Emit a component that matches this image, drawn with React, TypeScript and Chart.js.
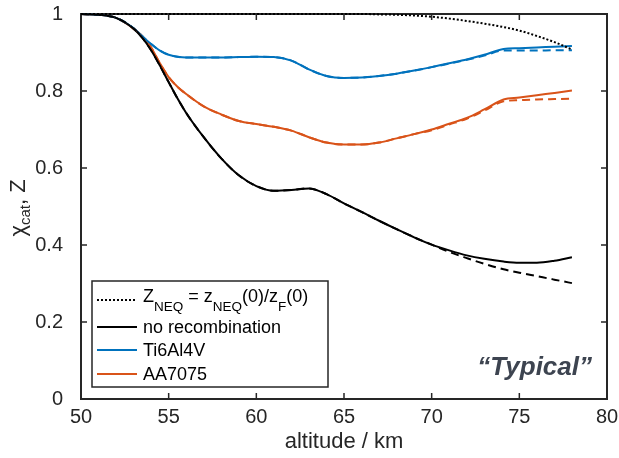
import React, { useEffect, useRef } from "react";
import { Chart, registerables } from "chart.js";

Chart.register(...registerables);

// ---------------- data ----------------
const ALTITUDE = [50, 51, 52, 53, 53.5, 54, 54.5, 55, 55.5, 56, 57, 58, 59, 60, 61, 62, 63, 64, 65, 66, 67, 68, 69, 70, 71, 72, 73, 74.1, 75, 76, 77, 78];

const Z_NEQ = [1, 1, 1, 1, 1, 1, 1, 1, 1, 1, 1, 1, 1, 1, 1, 1, 1, 1, 1, 1, 0.999, 0.998, 0.996, 0.993, 0.988, 0.982, 0.975, 0.966, 0.957, 0.943, 0.927, 0.908];

const NO_RECOMB = [1.0, 0.998, 0.99, 0.962, 0.938, 0.906, 0.866, 0.823, 0.781, 0.743, 0.68, 0.625, 0.581, 0.553, 0.541, 0.543, 0.547, 0.532, 0.508, 0.486, 0.463, 0.441, 0.42, 0.401, 0.386, 0.373, 0.364, 0.357, 0.354, 0.354, 0.359, 0.368];
const NO_RECOMB_DASHED = [1.0, 0.998, 0.99, 0.962, 0.938, 0.906, 0.866, 0.823, 0.781, 0.743, 0.68, 0.625, 0.581, 0.553, 0.541, 0.543, 0.547, 0.532, 0.508, 0.486, 0.463, 0.441, 0.42, 0.401, 0.382, 0.366, 0.351, 0.337, 0.328, 0.319, 0.31, 0.301];

const TI6AL4V = [1.0, 0.998, 0.99, 0.963, 0.942, 0.922, 0.905, 0.894, 0.889, 0.887, 0.887, 0.887, 0.888, 0.889, 0.888, 0.879, 0.856, 0.839, 0.834, 0.835, 0.839, 0.845, 0.853, 0.862, 0.872, 0.882, 0.894, 0.909, 0.911, 0.913, 0.915, 0.917];
const TI6AL4V_DASHED = [1.0, 0.998, 0.99, 0.963, 0.942, 0.922, 0.905, 0.894, 0.889, 0.887, 0.887, 0.887, 0.888, 0.889, 0.888, 0.879, 0.856, 0.839, 0.834, 0.835, 0.839, 0.845, 0.853, 0.862, 0.871, 0.881, 0.892, 0.905, 0.905, 0.905, 0.906, 0.906];

const AA7075 = [1.0, 0.998, 0.99, 0.962, 0.942, 0.913, 0.872, 0.836, 0.811, 0.792, 0.76, 0.739, 0.722, 0.714, 0.707, 0.697, 0.68, 0.666, 0.661, 0.661, 0.666, 0.677, 0.688, 0.7, 0.715, 0.73, 0.752, 0.778, 0.783, 0.789, 0.795, 0.801];
const AA7075_DASHED = [1.0, 0.998, 0.99, 0.962, 0.942, 0.913, 0.872, 0.836, 0.811, 0.792, 0.76, 0.739, 0.722, 0.714, 0.707, 0.697, 0.68, 0.666, 0.661, 0.661, 0.666, 0.677, 0.688, 0.698, 0.713, 0.728, 0.749, 0.773, 0.776, 0.778, 0.779, 0.78];

const X_TICKS = [50, 55, 60, 65, 70, 75, 80];
const Y_TICKS = [0, 0.2, 0.4, 0.6, 0.8, 1];

const X_TITLE = "altitude / km";
const ANNOTATION = "\u201CTypical\u201D";
const LEGEND_LABELS = ["no recombination", "Ti6Al4V", "AA7075"];

// ---------------- styles ----------------
const FONT = "'Liberation Sans', Arial, Helvetica, sans-serif";
const AXIS_COLOR = "#262626";
const BLUE = "#0072BD";
const ORANGE = "#D95319";
const BLACK = "#000000";

const toPoints = (ys: number[]) => ys.map((y, i) => ({ x: ALTITUDE[i], y }));

type Seg = { t: string; sub?: boolean };

function drawRich(ctx: CanvasRenderingContext2D, segs: Seg[], x: number, y: number, main: number, sub: number, subOff: number, align: "left" | "center" = "left") {
  const widths = segs.map((s) => {
    ctx.font = `${s.sub ? sub : main}px ${FONT}`;
    return ctx.measureText(s.t).width;
  });
  const total = widths.reduce((a, b) => a + b, 0);
  let cx = align === "center" ? x - total / 2 : x;
  ctx.textAlign = "left";
  ctx.textBaseline = "alphabetic";
  segs.forEach((s, i) => {
    ctx.font = `${s.sub ? sub : main}px ${FONT}`;
    ctx.fillText(s.t, cx, s.sub ? y + subOff : y);
    cx += widths[i];
  });
}

const framePlugin = {
  id: "frame",
  beforeDatasetsDraw(chart: any) {
    const { ctx, chartArea: a, scales } = chart;
    ctx.save();
    ctx.strokeStyle = AXIS_COLOR;
    ctx.lineWidth = 1.5;
    ctx.beginPath();
    X_TICKS.forEach((v) => {
      const px = scales.x.getPixelForValue(v);
      ctx.moveTo(px, a.bottom);
      ctx.lineTo(px, a.bottom - 6);
      ctx.moveTo(px, a.top);
      ctx.lineTo(px, a.top + 6);
    });
    Y_TICKS.forEach((v) => {
      const py = scales.y.getPixelForValue(v);
      ctx.moveTo(a.left, py);
      ctx.lineTo(a.left + 6, py);
      ctx.moveTo(a.right, py);
      ctx.lineTo(a.right - 6, py);
    });
    ctx.stroke();
    ctx.lineWidth = 2;
    ctx.strokeRect(a.left, a.top, a.right - a.left, a.bottom - a.top);
    ctx.restore();
  },
  afterDraw(chart: any) {
    const { ctx } = chart;
    ctx.save();
    // y-axis title
    ctx.fillStyle = AXIS_COLOR;
    ctx.translate(25, 208);
    ctx.rotate(-Math.PI / 2);
    drawRich(ctx, [{ t: "\u03C7" }, { t: "cat", sub: true }, { t: ", Z" }], 0, 0, 22, 15, 5, "center");
    ctx.restore();

    // annotation
    ctx.save();
    ctx.fillStyle = "#3d4450";
    ctx.font = `italic bold 26px ${FONT}`;
    ctx.textAlign = "right";
    ctx.textBaseline = "alphabetic";
    ctx.fillText(ANNOTATION, 592, 375);
    ctx.restore();

    // legend
    ctx.save();
    const L = 92, T = 281, R = 328, B = 387;
    ctx.fillStyle = "#ffffff";
    ctx.fillRect(L, T, R - L, B - T);
    ctx.strokeStyle = AXIS_COLOR;
    ctx.lineWidth = 1.5;
    ctx.strokeRect(L, T, R - L, B - T);
    const rows = [
      { y: 300, color: BLACK, dash: [2, 2] },
      { y: 327, color: BLACK, dash: [] as number[] },
      { y: 350, color: BLUE, dash: [] as number[] },
      { y: 374, color: ORANGE, dash: [] as number[] },
    ];
    rows.forEach((r) => {
      ctx.beginPath();
      ctx.strokeStyle = r.color;
      ctx.lineWidth = 2;
      ctx.setLineDash(r.dash);
      ctx.moveTo(97, r.y);
      ctx.lineTo(137, r.y);
      ctx.stroke();
    });
    ctx.setLineDash([]);
    ctx.fillStyle = "#000000";
    drawRich(
      ctx,
      [
        { t: "Z" },
        { t: "NEQ", sub: true },
        { t: " = z" },
        { t: "NEQ", sub: true },
        { t: "(0)/z" },
        { t: "F", sub: true },
        { t: "(0)" },
      ],
      143,
      302,
      18,
      13.5,
      9
    );
    ctx.font = `18px ${FONT}`;
    ctx.textAlign = "left";
    ctx.textBaseline = "alphabetic";
    ctx.fillText(LEGEND_LABELS[0], 143, 333);
    ctx.fillText(LEGEND_LABELS[1], 143, 356);
    ctx.fillText(LEGEND_LABELS[2], 143, 380);
    ctx.restore();
  },
};

export default function App() {
  const ref = useRef<HTMLCanvasElement | null>(null);

  useEffect(() => {
    document.body.style.margin = "0";
    if (!ref.current) return;
    const line = (label: string, data: number[], color: string, dash: number[], order: number) => ({
      label,
      data: toPoints(data),
      borderColor: color,
      backgroundColor: color,
      borderWidth: 2,
      borderDash: dash,
      pointRadius: 0,
      fill: false,
      clip: false as any,
      cubicInterpolationMode: "monotone" as const,
      order,
    });
    const chart = new Chart(ref.current, {
      type: "line",
      data: {
        datasets: [
          line("Z_NEQ", Z_NEQ, BLACK, [2, 2], 0),
          line("no recombination dashed", NO_RECOMB_DASHED, BLACK, [8, 5], 1),
          line("no recombination", NO_RECOMB, BLACK, [], 2),
          line("Ti6Al4V dashed", TI6AL4V_DASHED, BLUE, [8, 5], 1),
          line("Ti6Al4V", TI6AL4V, BLUE, [], 2),
          line("AA7075 dashed", AA7075_DASHED, ORANGE, [8, 5], 1),
          line("AA7075", AA7075, ORANGE, [], 2),
        ],
      },
      options: {
        responsive: false,
        animation: false,
        devicePixelRatio: 1,
        layout: { padding: { left: 0, right: 12, top: 14, bottom: 0 } },
        plugins: { legend: { display: false }, tooltip: { enabled: false } },
        scales: {
          x: {
            type: "linear",
            min: 50,
            max: 80,
            grid: { display: false },
            border: { display: false },
            afterBuildTicks: (s: any) => {
              s.ticks = X_TICKS.map((v) => ({ value: v }));
            },
            ticks: {
              font: { family: FONT, size: 20 },
              color: AXIS_COLOR,
              padding: -2,
              maxRotation: 0,
              callback: (v: any) => String(v),
            },
            title: {
              display: true,
              text: X_TITLE,
              font: { family: FONT, size: 22 },
              color: AXIS_COLOR,
              padding: { top: 0, bottom: 3 },
            },
            afterFit: (s: any) => {
              s.height = 59;
              s.paddingLeft = 0;
              s.paddingRight = 0;
            },
          },
          y: {
            type: "linear",
            min: 0,
            max: 1,
            grid: { display: false },
            border: { display: false },
            afterBuildTicks: (s: any) => {
              s.ticks = Y_TICKS.map((v) => ({ value: v }));
            },
            ticks: {
              font: { family: FONT, size: 20 },
              color: AXIS_COLOR,
              padding: 10,
              callback: (v: any) => String(Math.round(Number(v) * 10) / 10),
            },
            afterFit: (s: any) => {
              s.width = 81;
              s.paddingTop = 0;
              s.paddingBottom = 0;
            },
          },
        },
      },
      plugins: [framePlugin],
    });
    return () => chart.destroy();
  }, []);

  return (
    <div style={{ position: "fixed", left: 0, top: 0, width: 619, height: 458, background: "#fff" }}>
      <canvas ref={ref} width={619} height={458} style={{ display: "block" }} />
    </div>
  );
}
